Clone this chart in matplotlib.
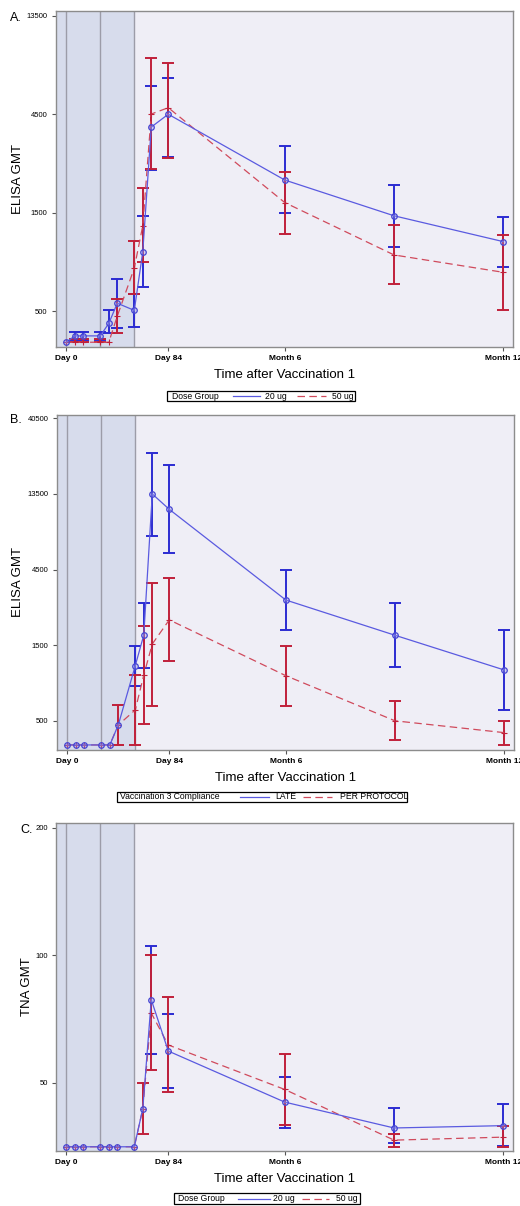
import numpy as np
import matplotlib
matplotlib.use("Agg")
import matplotlib.pyplot as plt
from matplotlib.lines import Line2D
from matplotlib.patches import Rectangle
from matplotlib.ticker import NullLocator, FixedLocator

plt.rcParams['font.family'] = ['Liberation Sans', 'DejaVu Sans']

nan = np.nan

# study days of each visit (Month 6 = 180, Month 9 = 270, Month 12 = 360)
days = [0, 7, 14, 28, 35, 42, 56, 63, 70, 84, 180, 270, 360]
tick_days = [0, 84, 180, 360]
tick_labels = ["Day 0", "Day 84", "Month 6", "Month 12"]
vacc_days = [0, 28, 56]

# panel A: ELISA GMT by dose group
a_20_gmt = [354, 380, 380, 380, 437, 547, 505, 972, 3900, 4500, 2160, 1450, 1087]
a_20_lo = [nan, 364, 364, 364, 391, 415, 421, 658, 2410, 2800, 1500, 1027, 822]
a_20_hi = [nan, 396, 396, 396, 505, 717, 606, 1447, 6175, 6730, 3160, 2040, 1437]
a_50_gmt = [354, 354, 354, 354, 354, 474, 810, 1300, 4510, 4840, 1680, 937, 772]
a_50_lo = [nan, 354, 354, 354, nan, 391, 606, 864, 2436, 2770, 1183, 675, 507]
a_50_hi = [nan, 368, 368, 368, nan, 574, 1099, 1970, 8460, 8000, 2366, 1303, 1171]

# panel B: ELISA GMT by vaccination 3 compliance
b_late_gmt = [353, 353, 353, 353, 353, 472, 1117, 1742, 13500, 10800, 2895, 1735, 1048]
b_late_lo = [nan, nan, nan, nan, nan, nan, 835, 1083, 7360, 5700, 1876, 1090, 587]
b_late_hi = [nan, nan, nan, nan, nan, nan, 1490, 2765, 24500, 20550, 4475, 2786, 1867]
b_pp_gmt = [353, 353, 353, 353, 353, 472, 587, 975, 1529, 2170, 965, 501, 422]
b_pp_lo = [nan, nan, nan, nan, nan, 353, 353, 476, 622, 1187, 624, 379, 353]
b_pp_hi = [nan, nan, nan, nan, nan, 631, 975, 1996, 3690, 4005, 1490, 665, 500]

# panel C: TNA GMT by dose group
c_20_gmt = [35.3, 35.3, 35.3, 35.3, 35.3, 35.3, 35.3, 43.4, 78.5, 59.4, 45.0, 39.1, 39.6]
c_20_lo = [nan, nan, nan, nan, nan, nan, nan, nan, 58.4, 48.5, 39.2, 36.0, 35.5]
c_20_hi = [nan, nan, nan, nan, nan, nan, nan, nan, 105, 72.6, 51.6, 43.5, 44.5]
c_50_gmt = [35.3, 35.3, 35.3, 35.3, 35.3, 35.3, 35.3, 43.4, 73.0, 61.4, 48.2, 36.6, 37.2]
c_50_lo = [nan, nan, nan, nan, nan, nan, nan, 37.9, 53.5, 47.5, 39.8, 35.3, 35.3]
c_50_hi = [nan, nan, nan, nan, nan, nan, nan, 50, 100, 79.8, 58.3, 37.9, 39.6]

BLUE = '#2b2bd2'
BLUE_LINE = '#5a5ae0'
RED = '#c0203a'
RED_LINE = '#d04a5c'
BG = '#efeef6'
SHADE = '#d7dcec'
DASH = (0, (6, 3.5))

W, H = 520, 1206
fig = plt.figure(figsize=(W / 100, H / 100), dpi=100)


def px(x, y):
    return x / W, 1 - y / H


def add_axes(left, right, top, bottom):
    return fig.add_axes([left / W, 1 - bottom / H, (right - left) / W, (bottom - top) / H])


def errbars(ax, g, lo, hi, color, z):
    d = np.array(days, float)
    g, lo, hi = np.array(g, float), np.array(lo, float), np.array(hi, float)
    m = ~np.isnan(lo)
    ax.errorbar(d[m], g[m], yerr=[g[m] - lo[m], hi[m] - g[m]], fmt='none',
                ecolor=color, elinewidth=1.4, capsize=4.2, capthick=1.4, zorder=z)


def panel(ax, s1, s2, ylim, yticks, ylabel, letter, letter_xy, ylab_x):
    ax.set_facecolor(BG)
    ax.set_yscale('log')
    ax.set_xlim(-8.5, 368)
    ax.set_ylim(*ylim)
    ax.axvspan(-8.5, vacc_days[-1], color=SHADE, zorder=0, lw=0)
    for v in vacc_days:
        ax.axvline(v, color='#9c9ca8', lw=1.0, zorder=1)

    errbars(ax, s1[0], s1[1], s1[2], BLUE, 2)
    errbars(ax, s2[0], s2[1], s2[2], RED, 3)
    ax.plot(days, s2[0], color=RED_LINE, lw=0.9, ls=DASH,
            marker='+', ms=4, mec=RED, mew=0.8, zorder=4)
    ax.plot(days, s1[0], color=BLUE_LINE, lw=0.9, marker='o', ms=4,
            mfc=(0.62, 0.6, 0.9, 0.35), mec='#4646d4', mew=0.9, zorder=5)

    ax.xaxis.set_major_locator(FixedLocator(tick_days))
    ax.set_xticklabels(tick_labels, fontsize=6, fontweight='bold')
    ax.yaxis.set_major_locator(FixedLocator(yticks))
    ax.yaxis.set_minor_locator(NullLocator())
    ax.set_yticklabels([str(t) for t in yticks], fontsize=5.5)
    ax.tick_params(axis='both', length=3, width=0.8, color='#555555', pad=3)
    for sp in ax.spines.values():
        sp.set_color('#8c8c8c')
        sp.set_linewidth(1.0)
    ax.set_xlabel("Time after Vaccination 1", fontsize=9.5, labelpad=5)
    ax.set_ylabel(ylabel, fontsize=9.5)
    ax.yaxis.set_label_coords(ylab_x, 0.5)
    fig.text(*px(*letter_xy), letter, fontsize=9, ha='right', va='baseline')


def legend(box, yc, title, title_x, items):
    x0, x1, h = box
    l, b = px(x0, yc + h / 2)
    fig.add_artist(Rectangle((l, b), (x1 - x0) / W, h / H, transform=fig.transFigure,
                             fill=False, ec='black', lw=0.9))
    fig.text(*px(title_x, yc), title, fontsize=6.2, ha='left', va='center')
    for (la, lb, lx, label, color, ls) in items:
        xa, ya = px(la, yc)
        xb, _ = px(lb, yc)
        fig.add_artist(Line2D([xa, xb], [ya, ya], transform=fig.transFigure,
                              color=color, lw=0.9, ls=ls))
        fig.text(*px(lx, yc), label, fontsize=6.2, ha='left', va='center')


axA = add_axes(56, 513, 11, 347)
panel(axA, (a_20_gmt, a_20_lo, a_20_hi), (a_50_gmt, a_50_lo, a_50_hi),
      (335.7, 14226), [500, 1500, 4500, 13500], "ELISA GMT", "A.", (22, 21), -0.070)
legend((166.7, 355, 9.5), 396, "Dose Group", 171.7,
       [(232.7, 260, 265, "20 ug", BLUE_LINE, '-'),
        (296.7, 326, 331.7, "50 ug", RED_LINE, DASH)])

axB = add_axes(57, 514, 415, 750)
panel(axB, (b_late_gmt, b_late_lo, b_late_hi), (b_pp_gmt, b_pp_lo, b_pp_hi),
      (328, 42490), [500, 1500, 4500, 13500, 40500], "ELISA GMT", "B.", (22, 423), -0.072)
legend((116.7, 406.7, 10), 796.7, "Vaccination 3 Compliance", 120,
       [(240, 269, 275, "LATE", BLUE_LINE, '-'),
        (303.3, 331.7, 340, "PER PROTOCOL", RED_LINE, DASH)])

axC = add_axes(56, 513, 823, 1151)
panel(axC, (c_20_gmt, c_20_lo, c_20_hi), (c_50_gmt, c_50_lo, c_50_hi),
      (34.5, 205.2), [50, 100, 200], "TNA GMT", "C.", (33, 833), -0.050)
legend((174, 360, 10.5), 1198.7, "Dose Group", 178,
       [(238.3, 270, 273.3, "20 ug", BLUE_LINE, '-'),
        (301.7, 329.3, 336, "50 ug", RED_LINE, DASH)])

fig.savefig("out.png", dpi=100)
